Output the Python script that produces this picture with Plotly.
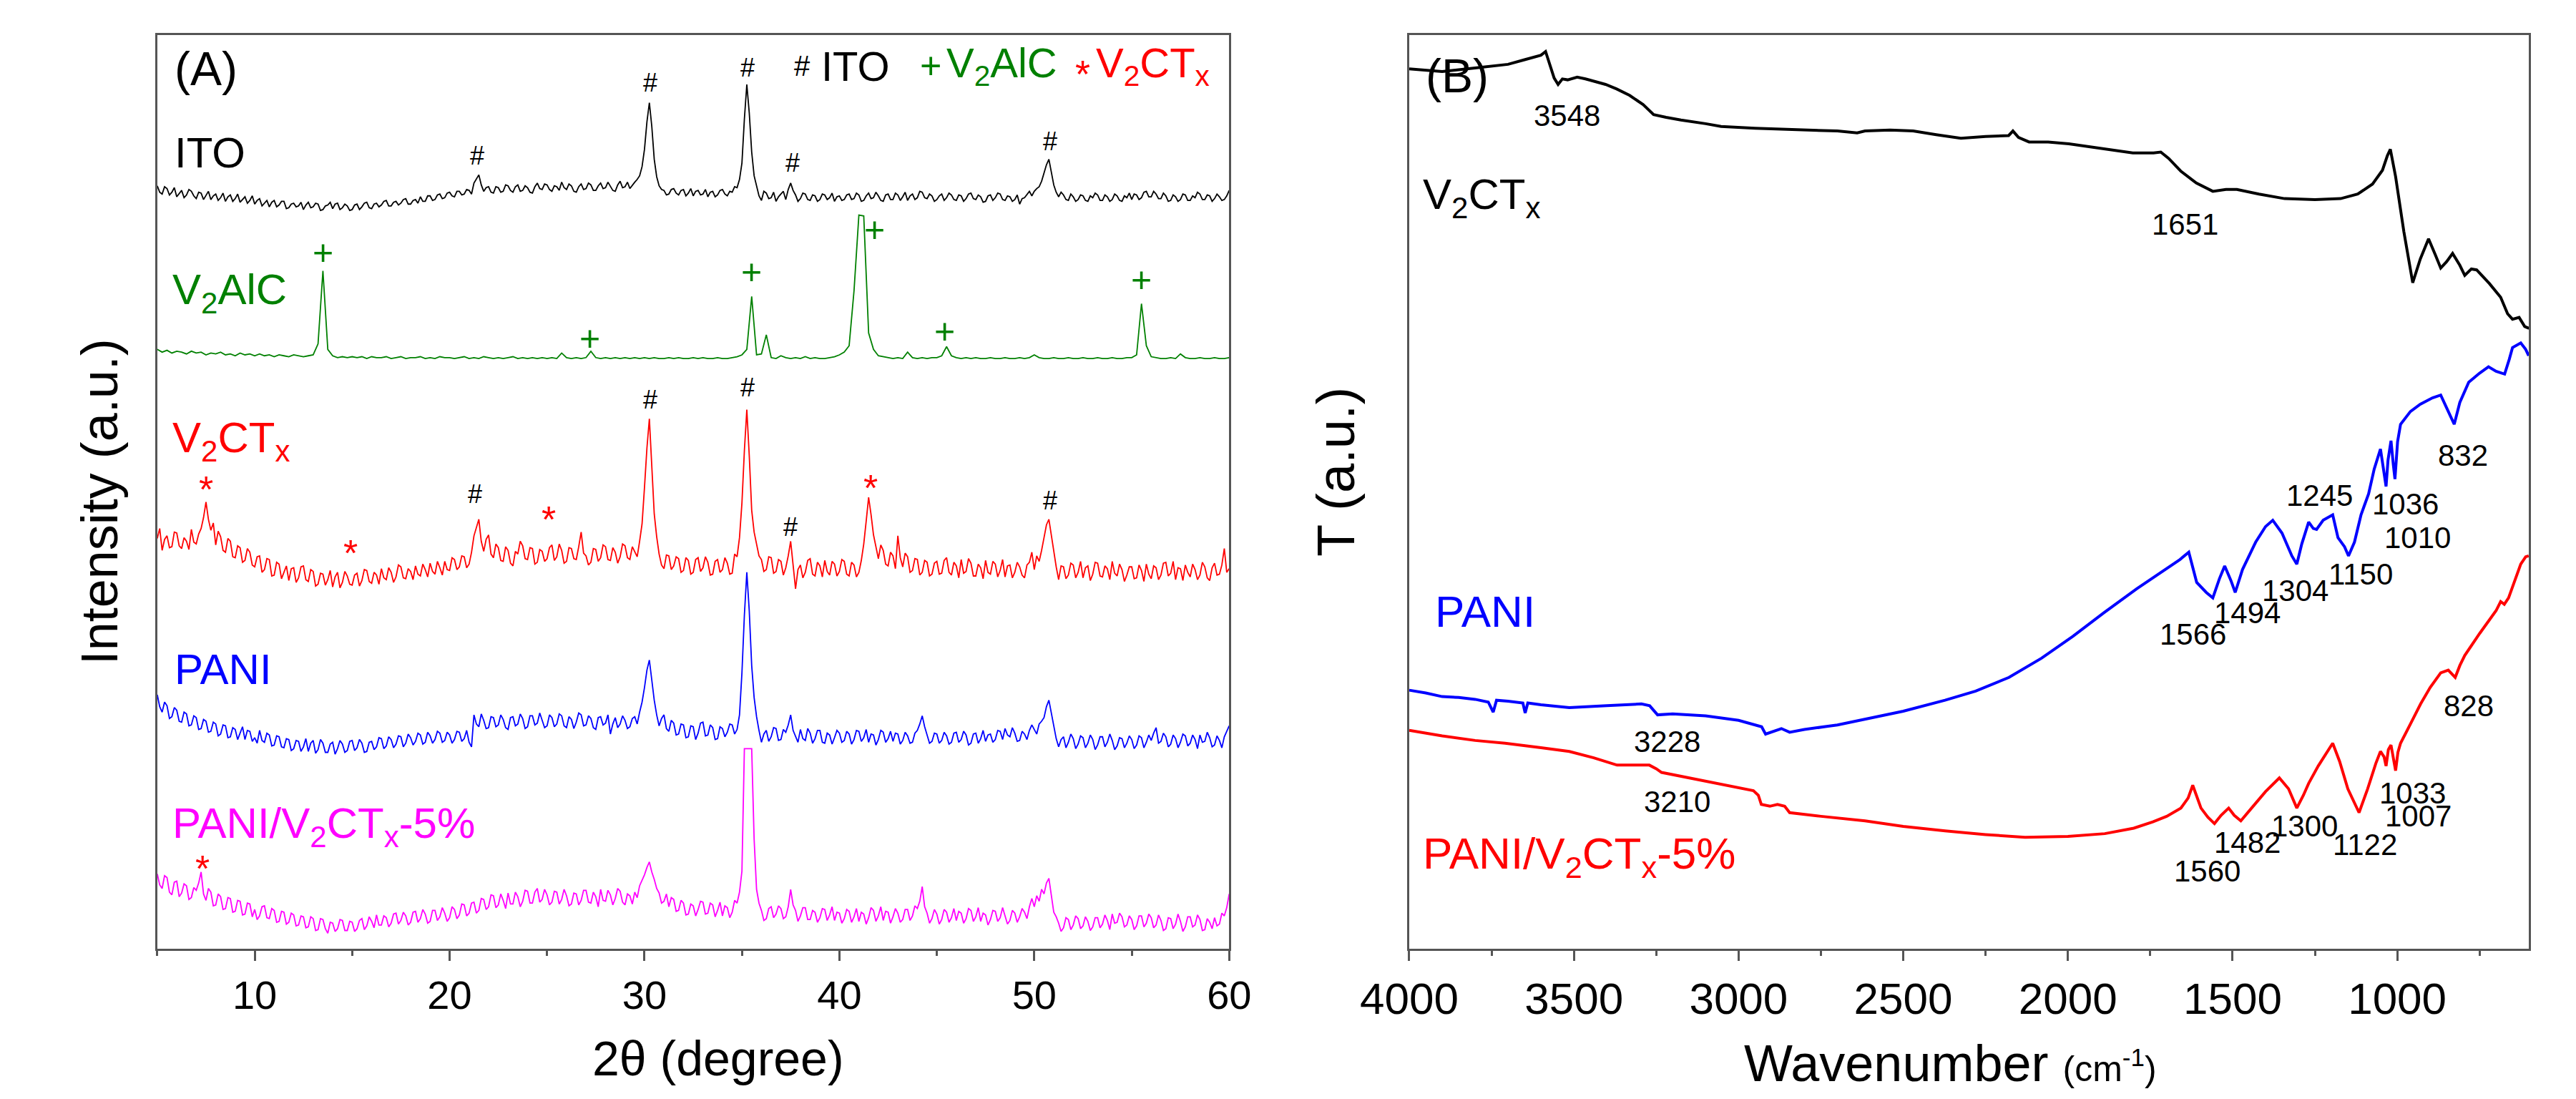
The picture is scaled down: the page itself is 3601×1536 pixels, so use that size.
import plotly.graph_objects as go

# ---------------- (A) XRD ----------------
# noisy scans read at 0.125 deg, the clean V2AlC scan at 0.25 deg
two_theta_fine = [5 + 0.125 * i for i in range(441)]
two_theta = [5 + 0.25 * i for i in range(221)]

xrd_ito = [
    83.5, 82.8, 82.6, 83.4, 83.2, 82.5, 82.8, 83.3, 82.3, 82.7, 83.0, 82.2, 82.5, 83.1, 82.9, 82.4, 82.1, 82.8, 82.7, 82.0,
    82.4, 82.9, 82.0, 82.4, 82.6, 81.9, 82.2, 82.7, 81.8, 82.3, 82.5, 81.8, 82.1, 82.6, 81.7, 82.0, 82.3, 81.6, 81.9, 82.4,
    81.5, 81.9, 82.1, 81.3, 81.6, 81.9, 81.2, 81.7, 81.9, 81.2, 81.4, 81.8, 81.8, 81.0, 81.1, 81.5, 81.6, 81.2, 81.3, 81.7,
    80.9, 81.4, 81.7, 81.1, 81.2, 81.6, 81.5, 80.8, 80.9, 81.3, 81.4, 81.7, 81.0, 81.5, 81.6, 80.9, 81.1, 81.5, 81.3, 80.8,
    80.9, 81.4, 81.5, 80.9, 81.2, 81.6, 81.7, 81.1, 81.0, 81.5, 81.6, 81.2, 81.4, 81.8, 81.9, 81.3, 81.3, 81.7, 81.8, 81.4,
    81.6, 82.0, 82.1, 81.5, 81.5, 81.9, 82.0, 81.6, 82.3, 81.8, 81.8, 82.4, 82.4, 81.9, 82.0, 82.5, 82.6, 82.1, 82.2, 82.7,
    82.8, 82.4, 82.3, 82.9, 82.9, 82.5, 82.6, 83.1, 83.0, 82.6, 83.8, 84.3, 84.7, 83.6, 82.9, 83.3, 83.4, 82.8, 82.7, 83.4,
    83.3, 82.8, 82.9, 83.6, 83.5, 83.0, 82.8, 83.4, 83.6, 82.9, 83.0, 83.5, 83.3, 82.8, 82.7, 83.4, 83.8, 83.2, 83.1, 83.7,
    83.6, 83.1, 82.9, 83.5, 83.4, 83.0, 83.9, 83.3, 83.1, 83.7, 83.5, 82.9, 82.8, 83.4, 83.7, 83.1, 83.2, 83.8, 83.6, 83.0,
    83.0, 83.5, 83.8, 83.2, 83.3, 83.9, 83.5, 83.0, 82.9, 83.6, 84.0, 83.3, 83.4, 83.9, 83.2, 83.6, 83.9, 84.2, 84.6, 85.6,
    87.5, 90.5, 92.6, 90.0, 86.4, 84.5, 83.5, 83.1, 83.0, 82.5, 82.6, 83.1, 83.2, 82.7, 82.5, 83.0, 83.1, 82.4, 82.7, 83.2,
    82.4, 82.9, 83.0, 82.5, 82.6, 83.1, 82.3, 82.8, 82.9, 82.3, 82.5, 83.0, 83.1, 82.6, 82.4, 82.9, 82.8, 83.4, 83.3, 84.2,
    86.0, 90.8, 94.6, 91.5, 87.2, 84.6, 83.4, 82.4, 81.9, 82.9, 82.7, 82.1, 82.2, 82.8, 81.8, 82.3, 82.6, 82.9, 82.0, 83.1,
    83.8, 83.0, 82.5, 81.8, 82.1, 82.7, 82.6, 82.0, 81.9, 82.5, 82.4, 81.8, 82.0, 82.6, 82.5, 82.0, 82.2, 82.7, 81.8, 82.3,
    82.4, 81.9, 82.0, 82.5, 82.6, 82.0, 82.1, 82.7, 82.5, 81.8, 81.9, 82.4, 82.7, 82.1, 82.2, 82.8, 82.4, 81.9, 81.8, 82.5,
    82.6, 82.0, 82.0, 82.7, 82.5, 81.9, 82.3, 82.8, 81.9, 82.4, 82.6, 82.0, 82.2, 82.9, 82.8, 82.2, 82.1, 82.6, 82.4, 81.8,
    82.0, 82.4, 82.6, 81.9, 82.2, 82.7, 82.5, 82.0, 81.9, 82.5, 82.4, 81.8, 82.1, 82.6, 82.7, 82.1, 82.0, 82.5, 82.3, 81.7,
    81.8, 82.4, 82.5, 81.9, 82.2, 82.7, 82.6, 82.0, 81.9, 82.4, 82.3, 81.8, 82.0, 82.5, 81.5, 82.1, 82.2, 82.6, 82.9, 82.4,
    82.9, 83.2, 83.4, 84.0, 84.9, 85.8, 86.4, 85.0, 83.6, 82.8, 82.3, 82.8, 82.5, 82.0, 81.9, 82.6, 82.3, 81.8, 82.0, 82.5,
    82.4, 81.9, 81.8, 82.4, 82.2, 82.7, 82.5, 81.9, 81.9, 82.5, 82.3, 81.8, 82.0, 82.6, 82.4, 81.9, 81.8, 82.4, 82.2, 82.7,
    82.0, 82.6, 82.5, 82.0, 82.2, 82.8, 82.9, 82.3, 82.3, 82.9, 82.6, 82.1, 82.1, 82.7, 82.4, 81.8, 81.9, 82.5, 82.3, 81.8,
    82.0, 82.6, 82.5, 81.9, 81.9, 82.4, 82.2, 82.8, 82.6, 82.0, 82.0, 82.5, 82.4, 81.8, 82.1, 82.6, 82.3, 81.9, 82.0, 82.4,
    83.0,
]

xrd_v2alc = [
    65.6, 65.3, 65.5, 65.2, 65.4, 65.3, 65.1, 65.4, 65.2, 65.3, 65.0, 65.2, 65.1, 65.3, 65.0, 65.1, 64.9, 65.2, 65.0, 65.1,
    64.9, 65.1, 64.9, 65.0, 64.8, 65.0, 64.9, 64.8, 65.0, 64.9, 64.8, 64.9, 65.0, 66.2, 74.2, 65.6, 64.9, 64.7, 64.8, 64.7,
    64.8, 64.7, 64.8, 64.6, 64.8, 64.7, 64.7, 64.8, 64.6, 64.7, 64.8, 64.6, 64.7, 64.7, 64.8, 64.6, 64.7, 64.6, 64.8, 64.7,
    64.7, 64.6, 64.7, 64.8, 64.6, 64.7, 64.6, 64.8, 64.7, 64.6, 64.7, 64.6, 64.7, 64.8, 64.6, 64.7, 64.6, 64.7, 64.6, 64.7,
    64.6, 64.7, 64.6, 65.2, 64.7, 64.6, 64.7, 64.6, 64.7, 65.4, 64.7, 64.6, 64.7, 64.6, 64.7, 64.6, 64.7, 64.6, 64.7, 64.6,
    64.7, 64.6, 64.7, 64.6, 64.6, 64.7, 64.6, 64.7, 64.6, 64.6, 64.7, 64.6, 64.7, 64.6, 64.6, 64.7, 64.6, 64.6, 64.7, 64.8,
    65.0, 65.6, 71.4, 65.0, 65.1, 67.2, 64.7, 64.6, 64.9, 64.7, 64.6, 64.7, 64.6, 64.8, 64.6, 64.7, 64.6, 64.6, 64.7, 64.8,
    65.0, 65.3, 66.0, 72.0, 80.3, 80.2, 67.4, 65.6, 64.9, 64.8, 64.7, 64.6, 64.7, 64.6, 65.3, 64.7, 64.6, 64.7, 64.6, 64.7,
    64.7, 64.9, 65.9, 64.9, 64.7, 64.6, 64.7, 64.6, 64.7, 64.6, 64.6, 64.7, 64.6, 64.6, 64.7, 64.6, 64.6, 64.7, 64.6, 64.7,
    65.0, 64.7, 64.6, 64.6, 64.7, 64.6, 64.6, 64.7, 64.6, 64.6, 64.7, 64.6, 64.6, 64.7, 64.6, 64.6, 64.7, 64.6, 64.6, 64.7,
    64.7, 65.0, 70.6, 66.0, 64.8, 64.7, 64.6, 64.6, 64.7, 64.6, 65.1, 64.7, 64.6, 64.6, 64.7, 64.6, 64.6, 64.7, 64.6, 64.6, 64.7,
]

xrd_v2ctx = [
    44.9, 46.0, 43.6, 44.8, 45.2, 43.9, 44.0, 45.6, 45.5, 44.1, 43.8, 45.0, 44.6, 43.7, 45.9, 44.5, 44.3, 45.4, 46.0, 47.2,
    48.9, 47.0, 45.8, 46.6, 44.2, 45.7, 45.1, 43.6, 43.4, 44.9, 44.6, 42.9, 42.8, 44.1, 43.9, 42.3, 42.5, 43.8, 43.4, 42.0,
    41.8, 42.9, 43.0, 41.2, 41.5, 42.7, 42.6, 40.8, 40.9, 42.3, 42.1, 40.5, 41.2, 41.9, 40.3, 41.6, 41.7, 40.1, 40.6, 41.8,
    41.9, 40.4, 40.2, 41.5, 41.3, 39.7, 39.9, 41.1, 41.0, 39.8, 40.4, 41.4, 39.6, 40.7, 41.2, 39.5, 40.1, 41.3, 40.8, 39.9,
    39.8, 40.9, 41.1, 39.7, 40.3, 41.5, 41.4, 40.2, 40.0, 41.2, 40.9, 39.9, 41.6, 40.6, 40.4, 41.7, 41.2, 40.1, 40.7, 42.0,
    41.8, 40.6, 40.5, 41.6, 41.3, 40.4, 41.9, 41.0, 40.8, 42.1, 41.5, 40.7, 42.2, 41.3, 41.0, 42.4, 41.7, 40.9, 42.4, 41.5,
    41.4, 42.8, 42.6, 41.5, 41.8, 43.0, 42.9, 41.7, 42.1, 43.4, 45.2, 46.1, 47.0, 44.6, 43.5, 44.8, 45.3, 43.2, 42.8, 44.3,
    43.9, 42.5, 42.4, 44.0, 43.6, 42.2, 41.9, 43.5, 43.2, 44.6, 44.1, 42.7, 42.6, 43.9, 43.8, 42.1, 42.3, 43.7, 43.5, 42.4,
    42.7, 43.9, 44.2, 42.5, 42.9, 44.3, 43.6, 42.2, 42.4, 43.9, 43.8, 42.7, 42.6, 44.0, 45.6, 43.3, 43.0, 42.0, 42.3, 43.8,
    43.7, 42.4, 42.8, 44.2, 44.0, 42.6, 42.5, 43.9, 43.4, 42.2, 42.9, 44.3, 44.1, 42.8, 42.6, 44.0, 43.5, 42.9, 44.6, 46.5,
    50.5, 54.8, 58.0, 53.0, 47.6, 45.1, 43.2, 42.0, 41.6, 43.1, 43.0, 41.5, 41.9, 42.9, 42.7, 41.2, 41.4, 42.8, 42.5, 41.0,
    41.2, 42.6, 42.8, 41.3, 41.7, 42.9, 42.3, 40.9, 41.0, 42.4, 42.6, 41.2, 41.5, 42.8, 42.2, 41.0, 41.1, 43.2, 42.9, 45.0,
    48.8, 54.5, 59.0, 54.0, 48.0, 45.6, 44.2, 43.0, 42.6, 41.3, 41.5, 42.9, 42.8, 41.1, 41.3, 42.6, 42.4, 40.9, 41.7, 43.0,
    44.6, 42.2, 39.4, 41.5, 42.0, 40.6, 41.2, 42.5, 42.7, 41.0, 40.8, 42.3, 41.9, 40.7, 42.5, 41.3, 40.9, 42.4, 42.1, 40.8,
    41.3, 42.6, 42.4, 41.0, 40.8, 42.3, 42.0, 40.7, 41.2, 42.5, 44.3, 46.8, 49.4, 47.5, 45.3, 44.0, 42.7, 44.2, 43.6, 42.1,
    41.9, 43.4, 43.0, 41.6, 45.2, 42.8, 41.8, 43.3, 42.9, 41.2, 41.4, 42.7, 42.6, 40.9, 41.2, 42.5, 42.3, 40.8, 41.0, 42.2,
    42.4, 41.0, 41.1, 42.5, 42.8, 41.2, 40.9, 42.3, 41.9, 40.6, 42.6, 41.1, 41.3, 42.7, 42.2, 40.8, 40.8, 42.1, 41.7, 40.5,
    42.5, 41.2, 41.0, 42.4, 42.1, 40.7, 41.4, 42.6, 40.7, 41.9, 42.0, 40.6, 41.2, 42.3, 41.8, 40.9, 40.6, 42.0, 42.3, 43.4,
    41.5, 43.0, 42.4, 43.6, 45.0, 46.4, 47.0, 45.2, 43.2, 41.8, 40.4, 41.9, 41.8, 40.5, 40.9, 42.2, 42.0, 40.6, 41.2, 42.4,
    40.6, 41.7, 41.9, 40.3, 41.0, 42.3, 42.2, 40.8, 40.7, 41.9, 41.6, 40.4, 42.4, 41.1, 40.8, 42.1, 41.5, 40.2, 40.9, 41.8,
    41.8, 40.5, 40.6, 42.0, 41.4, 40.2, 42.1, 41.0, 40.5, 41.9, 41.7, 40.4, 40.9, 42.2, 42.3, 40.8, 41.1, 42.4, 40.4, 41.7,
    41.6, 40.3, 42.0, 41.2, 40.7, 42.1, 41.5, 40.4, 40.9, 42.3, 41.8, 40.6, 40.3, 41.7, 42.2, 40.9, 41.0, 42.0, 43.8, 41.2,
    41.6,
]

xrd_pani = [
    27.8, 26.5, 25.9, 27.0, 26.6, 25.2, 25.4, 26.4, 26.1, 24.9, 24.8, 25.9, 25.7, 24.4, 24.5, 25.5, 25.3, 24.0, 24.1, 25.1,
    24.9, 23.7, 23.8, 24.8, 24.6, 23.3, 23.5, 24.5, 24.4, 23.1, 23.2, 24.2, 24.0, 22.9, 23.6, 24.3, 22.9, 23.9, 23.8, 22.7,
    23.1, 22.5, 23.9, 22.8, 22.6, 23.6, 23.4, 22.2, 22.3, 23.3, 23.2, 22.1, 22.0, 23.0, 22.9, 21.7, 21.9, 22.8, 22.7, 21.6,
    22.1, 23.0, 21.6, 22.5, 22.8, 21.4, 21.8, 22.9, 22.5, 21.5, 21.5, 22.4, 22.6, 21.3, 21.9, 22.8, 22.4, 21.5, 21.7, 22.7,
    22.8, 21.7, 22.0, 22.9, 22.5, 21.5, 21.6, 22.6, 22.7, 21.8, 22.1, 23.1, 23.0, 21.9, 22.2, 23.2, 22.9, 22.0, 22.4, 23.3,
    23.2, 22.1, 22.5, 23.5, 23.1, 22.3, 22.7, 23.6, 23.4, 22.4, 22.6, 23.7, 23.3, 22.5, 22.9, 23.8, 23.6, 22.6, 22.8, 23.7,
    23.4, 22.5, 22.9, 23.8, 23.7, 22.7, 23.0, 23.9, 22.6, 22.1, 25.6, 24.6, 24.3, 25.7, 25.0, 24.1, 24.2, 25.4, 25.3, 24.3,
    24.5, 25.6, 25.1, 24.2, 24.0, 25.3, 25.4, 24.4, 24.6, 25.7, 25.2, 24.1, 24.3, 25.5, 25.5, 24.5, 24.7, 25.8, 25.0, 24.2,
    24.4, 25.6, 25.3, 24.3, 24.6, 25.7, 25.5, 24.4, 24.2, 25.4, 25.1, 24.1, 24.8, 25.8, 25.6, 24.4, 24.5, 25.5, 25.2, 24.2,
    24.0, 25.3, 25.4, 24.5, 24.7, 25.6, 23.5, 24.6, 25.3, 24.2, 24.6, 25.5, 25.0, 24.1, 24.3, 25.2, 25.4, 24.6, 25.9, 27.0,
    28.6, 30.5, 31.6, 29.5, 27.2, 25.6, 24.4, 25.2, 25.6, 24.1, 23.8, 25.0, 24.7, 23.4, 23.5, 24.6, 24.5, 23.1, 23.2, 24.4,
    24.3, 22.9, 23.6, 24.7, 24.8, 23.3, 23.4, 24.5, 24.2, 22.9, 23.0, 24.3, 24.1, 23.2, 23.7, 24.6, 24.5, 23.5, 24.0, 25.6,
    30.2, 36.5, 41.2, 37.0, 31.0, 27.5, 25.4, 23.9, 22.6, 23.5, 23.9, 22.7, 23.2, 24.2, 24.1, 22.8, 22.9, 24.0, 23.7, 24.5,
    25.6, 23.9, 23.3, 22.6, 24.0, 23.0, 22.8, 24.1, 23.6, 22.5, 23.0, 23.9, 23.9, 22.6, 22.5, 23.6, 23.4, 22.4, 23.1, 23.9,
    23.6, 22.6, 22.8, 23.8, 23.5, 22.4, 22.9, 23.9, 23.8, 22.7, 23.1, 24.0, 22.6, 23.5, 23.4, 22.3, 22.9, 23.9, 23.7, 22.6,
    23.0, 23.8, 22.7, 23.6, 23.5, 22.4, 22.8, 23.7, 23.3, 22.5, 22.6, 23.6, 23.9, 24.6, 25.5, 24.3, 23.4, 22.5, 22.7, 23.6,
    23.5, 22.5, 22.8, 23.7, 23.3, 22.4, 22.6, 23.6, 23.7, 22.6, 22.9, 23.8, 23.4, 22.3, 22.5, 23.5, 23.6, 22.5, 23.0, 23.9,
    22.7, 23.4, 23.5, 22.6, 22.9, 23.9, 23.8, 22.9, 24.1, 23.4, 23.2, 24.2, 23.6, 22.7, 22.8, 23.8, 23.5, 22.9, 23.9, 24.5,
    24.0, 23.5, 24.6, 24.9, 25.3, 26.5, 27.2, 25.8, 24.2, 23.0, 22.1, 22.9, 23.2, 22.0, 22.6, 23.5, 23.0, 21.9, 22.4, 23.3,
    23.1, 22.0, 22.5, 23.4, 22.9, 21.8, 22.3, 23.2, 23.2, 22.1, 22.6, 23.5, 22.8, 21.8, 22.2, 23.1, 23.0, 22.0, 22.5, 23.3,
    22.9, 21.9, 22.3, 23.3, 23.1, 22.0, 22.6, 23.4, 22.8, 23.6, 24.2, 22.5, 22.7, 23.6, 23.2, 22.1, 22.4, 23.4, 23.0, 22.0,
    22.6, 23.5, 23.3, 22.2, 22.5, 23.4, 22.9, 21.9, 23.4, 22.6, 22.7, 23.7, 23.1, 22.1, 22.3, 23.3, 22.8, 22.0, 23.2, 23.8,
    24.4,
]

xrd_pani_v2ctx = [
    8.2, 7.0, 6.6, 8.0, 7.8, 6.2, 5.9, 7.3, 7.4, 5.7, 6.1, 7.1, 6.9, 5.4, 5.6, 6.7, 6.4, 7.2, 8.4, 6.0,
    5.3, 6.6, 6.2, 4.7, 4.8, 6.0, 5.7, 4.3, 4.4, 5.6, 5.5, 4.0, 4.1, 5.3, 5.2, 3.7, 3.8, 5.0, 4.9, 3.5,
    4.3, 3.2, 3.6, 4.6, 4.7, 3.4, 3.3, 4.4, 4.2, 2.9, 3.0, 4.1, 4.0, 2.7, 2.9, 3.9, 3.7, 2.5, 2.6, 3.6,
    3.5, 2.3, 2.4, 3.5, 3.3, 2.0, 2.1, 3.3, 3.2, 2.2, 1.7, 2.9, 2.8, 1.9, 2.2, 3.2, 3.1, 2.0, 2.0, 3.0,
    2.9, 1.9, 2.2, 3.1, 3.3, 2.1, 2.5, 3.5, 3.0, 2.3, 3.7, 2.6, 2.6, 3.6, 3.4, 2.4, 2.8, 3.8, 3.9, 2.7,
    3.1, 4.0, 3.6, 2.6, 2.9, 4.0, 4.1, 2.9, 3.3, 4.3, 3.8, 2.8, 3.0, 4.2, 4.2, 3.1, 3.5, 4.5, 3.9, 3.0,
    3.4, 4.6, 4.3, 3.3, 3.7, 4.9, 4.8, 3.6, 3.9, 5.0, 5.1, 3.9, 4.2, 5.5, 5.4, 4.3, 4.6, 5.9, 5.8, 4.5,
    4.8, 6.0, 5.3, 4.4, 6.1, 4.9, 4.9, 6.2, 5.7, 4.6, 5.2, 6.4, 6.3, 5.0, 5.0, 6.2, 6.6, 5.1, 5.4, 6.5,
    5.9, 4.8, 5.1, 6.3, 6.2, 4.9, 5.4, 6.5, 5.8, 4.7, 4.9, 6.1, 6.0, 4.8, 5.3, 6.4, 6.4, 5.1, 5.0, 6.2,
    5.7, 4.6, 6.5, 5.3, 5.2, 6.4, 5.9, 4.8, 5.5, 6.6, 6.3, 5.1, 4.8, 6.0, 5.8, 4.9, 6.2, 5.6, 6.9, 7.5,
    8.1, 8.9, 9.5, 8.4, 7.6, 6.6, 6.1, 5.0, 5.2, 6.0, 4.6, 5.6, 5.4, 4.1, 4.2, 5.3, 5.0, 3.7, 3.8, 4.9,
    4.7, 3.6, 4.3, 5.2, 5.1, 3.8, 3.9, 5.0, 4.8, 3.5, 4.2, 5.1, 3.6, 4.7, 4.5, 3.4, 4.0, 5.3, 5.0, 6.2,
    8.5, 21.9, 21.9, 21.9, 21.9, 12.0, 6.5, 5.0, 4.2, 3.1, 3.3, 4.4, 4.6, 3.4, 3.8, 4.7, 4.4, 3.3, 3.5, 4.6,
    6.5, 4.8, 4.2, 3.0, 3.6, 4.5, 4.5, 3.2, 3.2, 4.2, 4.0, 2.9, 3.4, 4.4, 4.3, 3.1, 3.7, 4.6, 3.1, 4.0,
    3.9, 2.8, 3.3, 4.3, 4.1, 2.9, 3.5, 4.4, 3.0, 4.0, 3.8, 2.7, 3.4, 4.5, 4.2, 3.0, 3.6, 4.6, 3.1, 4.1,
    4.0, 2.8, 3.5, 4.4, 3.9, 2.9, 3.2, 4.3, 4.3, 3.1, 3.6, 4.7, 4.4, 5.2, 6.8, 4.6, 3.9, 2.8, 3.3, 4.3,
    3.8, 2.7, 3.2, 4.3, 4.0, 2.9, 3.4, 4.4, 3.1, 4.1, 3.9, 2.8, 3.3, 4.4, 4.2, 3.0, 3.5, 4.5, 3.0, 3.9,
    3.7, 2.6, 3.2, 4.2, 4.1, 3.0, 3.4, 4.5, 3.6, 2.7, 3.1, 4.2, 3.9, 2.9, 3.5, 4.4, 4.0, 3.3, 4.6, 5.5,
    4.6, 5.8, 5.2, 6.5, 6.0, 7.2, 7.7, 6.0, 4.0, 3.5, 2.8, 1.9, 2.3, 3.4, 3.2, 2.1, 2.6, 3.6, 3.3, 2.2,
    2.5, 3.5, 3.0, 2.0, 2.4, 3.4, 3.4, 2.3, 2.7, 3.7, 3.1, 2.1, 3.8, 2.8, 2.9, 3.9, 3.5, 2.4, 2.6, 3.6,
    3.2, 2.1, 2.5, 3.6, 3.6, 2.4, 2.8, 3.8, 3.4, 2.3, 2.6, 3.7, 3.1, 2.0, 2.2, 3.4, 3.3, 2.2, 2.7, 3.8,
    3.0, 1.9, 2.4, 3.5, 3.5, 2.4, 2.6, 3.7, 3.2, 2.0, 2.1, 3.3, 2.9, 2.2, 3.4, 2.5, 2.7, 3.9, 3.6, 4.5,
    6.0,
]

for _series in (xrd_ito, xrd_v2ctx, xrd_pani, xrd_pani_v2ctx):
    assert len(_series) == len(two_theta_fine), len(_series)
assert len(xrd_v2alc) == len(two_theta), len(xrd_v2alc)

# peak markers
ito_marks = [(21.4, 86.8), (30.3, 94.8), (35.3, 96.4), (37.6, 86.0), (50.8, 88.4)]
v2alc_marks = [(13.5, 76.2), (27.2, 66.8), (35.5, 74.1), (41.8, 78.7), (45.4, 67.6), (55.5, 73.2)]
v2ctx_marks = [(7.5, 51.3, "*"), (14.9, 44.3, "*"), (21.3, 49.8, "#"), (25.1, 48.0, "*"),
               (30.3, 60.1, "#"), (35.3, 61.4, "#"), (37.5, 46.2, "#"), (41.6, 51.4, "*"),
               (50.8, 49.1, "#")]
composite_marks = [(7.3, 9.8, "*")]

# ---------------- (B) FTIR ----------------
wn_v2ctx = [4000, 3900, 3800, 3700, 3650, 3600, 3586, 3570, 3560, 3548, 3535, 3519, 3490, 3465,
            3430, 3404, 3370, 3331, 3290, 3258, 3220, 3175, 3100, 3053, 2950, 2859, 2760, 2700,
            2640, 2616, 2540, 2470, 2400, 2325, 2250, 2180, 2167, 2150, 2118, 2060, 1997, 1900,
            1803, 1740, 1718, 1694, 1657, 1610, 1560, 1520, 1487, 1420, 1342, 1250, 1172, 1120,
            1075, 1045, 1030, 1021, 1005, 980, 953, 930, 905, 885, 868, 850, 832, 810, 795, 775,
            759, 720, 686, 665, 650, 630, 613, 600]
t_v2ctx = [96.3, 96.0, 96.4, 96.8, 97.3, 97.8, 98.2, 96.5, 95.3, 94.6, 95.2, 95.1, 95.4, 95.2,
           94.9, 94.6, 94.1, 93.4, 92.4, 91.3, 91.0, 90.7, 90.3, 90.0, 89.8, 89.7, 89.6, 89.5,
           89.3, 89.5, 89.6, 89.5, 89.1, 88.7, 88.9, 89.0, 89.5, 88.8, 88.3, 88.3, 88.1, 87.6,
           87.1, 87.1, 87.2, 86.5, 85.1, 83.8, 82.9, 83.1, 83.1, 82.6, 82.1, 82.0, 82.1, 82.6,
           83.7, 85.2, 86.8, 87.5, 84.5, 78.5, 72.9, 75.5, 77.7, 76.0, 74.5, 75.2, 76.1, 74.8, 73.7, 74.4,
           74.3, 72.8, 71.3, 69.5, 68.9, 69.1, 68.1, 67.9]

wn_pani = [4000, 3950, 3900, 3850, 3800, 3760, 3745, 3735, 3700, 3655, 3648, 3640, 3600, 3514,
           3400, 3295, 3270, 3246, 3200, 3100, 3000, 2955, 2930, 2918, 2895, 2870, 2845, 2800,
           2700, 2616, 2500, 2373, 2280, 2179, 2080, 1985, 1890, 1791, 1700, 1660, 1633, 1620,
           1609, 1580, 1560, 1540, 1524, 1505, 1492, 1470, 1430, 1400, 1378, 1350, 1320, 1305,
           1290, 1269, 1255, 1245, 1225, 1196, 1180, 1160, 1148, 1130, 1110, 1087, 1070, 1051,
           1040, 1034, 1028, 1019, 1012, 1007, 999, 990, 960, 930, 893, 868, 850, 827, 810, 783,
           750, 723, 700, 674, 660, 650, 625, 610, 601]
t_pani = [28.3, 28.0, 27.6, 27.5, 27.3, 27.0, 25.9, 27.2, 27.1, 26.9, 25.8, 26.9, 26.7, 26.4,
          26.6, 26.8, 26.6, 25.6, 25.7, 25.5, 25.0, 24.6, 24.3, 23.5, 23.8, 24.1, 23.7, 24.0,
          24.5, 25.1, 26.0, 27.2, 28.2, 29.7, 31.8, 34.2, 36.8, 39.4, 41.6, 42.6, 43.4, 41.5,
          40.1, 39.0, 38.4, 40.5, 41.9, 40.3, 39.0, 41.5, 44.5, 46.2, 46.9, 45.5, 43.0, 42.1,
          44.3, 46.7, 46.0, 45.9, 46.9, 47.5, 45.0, 44.0, 43.0, 44.5, 47.5, 49.8, 52.5, 54.7,
          52.0, 50.6, 53.5, 55.6, 53.0, 51.4, 55.5, 57.4, 58.8, 59.6, 60.3, 60.6, 59.2, 57.4, 59.8, 62.0,
          63.0, 63.7, 63.2, 62.9, 64.5, 65.8, 66.3, 65.6, 64.9]

wn_pani_v2ctx = [4000, 3900, 3800, 3709, 3600, 3514, 3440, 3369, 3271, 3250, 3234, 3150, 3053,
                 2990, 2955, 2940, 2931, 2905, 2882, 2860, 2845, 2750, 2616, 2500, 2373, 2250,
                 2130, 2000, 1888, 1800, 1742, 1700, 1657, 1635, 1621, 1610, 1596, 1575, 1555,
                 1535, 1512, 1495, 1475, 1440, 1400, 1358, 1330, 1305, 1285, 1269, 1240, 1196,
                 1175, 1150, 1116, 1090, 1065, 1051, 1040, 1034, 1027, 1019, 1012, 1005, 998, 990,
                 960, 929, 900, 868, 845, 824, 810, 795, 750, 700, 686, 675, 662, 640, 625, 610, 601]
t_pani_v2ctx = [23.9, 23.3, 22.8, 22.5, 22.0, 21.6, 20.9, 20.1, 20.1, 19.7, 19.3, 18.7, 18.0,
                17.6, 17.3, 16.8, 15.8, 15.6, 15.8, 15.6, 14.9, 14.5, 14.0, 13.4, 12.9, 12.5,
                12.2, 12.3, 12.6, 13.2, 13.9, 14.5, 15.4, 16.5, 17.9, 16.8, 15.4, 14.4, 13.7,
                14.6, 15.4, 14.6, 14.0, 15.5, 17.2, 18.7, 17.5, 15.4, 16.8, 18.1, 20.0, 22.5,
                20.5, 17.5, 14.9, 17.5, 20.3, 21.6, 21.0, 20.0, 21.8, 22.3, 21.0, 19.5, 21.5, 22.5,
                24.6, 26.8, 28.6, 30.2, 30.5, 29.7, 31.0, 32.1, 34.5, 37.0, 38.0, 37.7, 38.4, 40.5, 42.1, 42.9, 43.0]

# band labels: (wavenumber, height, text)
ftir_labels = [(3520, 91.2, "3548"), (1644, 79.3, "1651"),
               (801, 54.0, "832"), (1237, 49.6, "1245"), (976, 48.7, "1036"), (939, 45.0, "1010"),
               (1112, 41.0, "1150"), (1310, 39.2, "1304"), (1456, 36.8, "1494"), (1621, 34.4, "1566"),
               (3218, 22.7, "3228"),
               (3187, 16.1, "3210"), (784, 26.6, "828"), (953, 17.0, "1033"), (936, 14.5, "1007"),
               (1281, 13.4, "1300"), (1099, 11.4, "1122"), (1456, 11.6, "1482"), (1577, 8.5, "1560")]

BLACK, GREEN, RED, BLUE, MAGENTA = "#000000", "#008000", "#ff0000", "#0000ff", "#ff00ff"
FONT = "Liberation Sans, Arial, sans-serif"
V2CTX = "V<sub>2</sub>CT<sub>x</sub>"

fig = go.Figure()

for xs, ys, color in [(two_theta_fine, xrd_ito, BLACK), (two_theta, xrd_v2alc, GREEN),
                      (two_theta_fine, xrd_v2ctx, RED), (two_theta_fine, xrd_pani, BLUE),
                      (two_theta_fine, xrd_pani_v2ctx, MAGENTA)]:
    fig.add_trace(go.Scatter(x=xs, y=ys, mode="lines", line=dict(color=color, width=1.8),
                             xaxis="x", yaxis="y", showlegend=False))

for xs, ys, color in [(wn_v2ctx, t_v2ctx, BLACK), (wn_pani, t_pani, BLUE),
                      (wn_pani_v2ctx, t_pani_v2ctx, RED)]:
    fig.add_trace(go.Scatter(x=xs, y=ys, mode="lines", line=dict(color=color, width=4),
                             xaxis="x2", yaxis="y2", showlegend=False))

ann = []


def label(x, y, text, color=BLACK, size=60, ref="", xanchor="left"):
    ann.append(dict(x=x, y=y, xref="x" + ref, yref="y" + ref, text=text, showarrow=False,
                    xanchor=xanchor, yanchor="middle", font=dict(family=FONT, size=size, color=color)))


# panel A texts
label(5.8, 96.3, "(A)", size=66)
label(5.8, 87.1, "ITO")
label(5.7, 71.8, "V<sub>2</sub>AlC", GREEN)
label(5.7, 55.6, V2CTX, RED)
label(5.8, 30.6, "PANI", BLUE)
label(5.7, 13.4, "PANI/" + V2CTX + "-5%", MAGENTA)

label(38.1, 96.6, "#", size=40, xanchor="center")
label(39.0, 96.6, "ITO", size=58)
label(44.7, 96.6, "+", GREEN, size=52, xanchor="center")
label(45.4, 96.6, "V<sub>2</sub>AlC", GREEN, size=58)
label(52.5, 95.8, "*", RED, size=54, xanchor="center")
label(53.1, 96.6, V2CTX, RED, size=58)

for x, y in ito_marks:
    label(x, y, "#", size=36, xanchor="center")
for x, y in v2alc_marks:
    label(x, y, "+", GREEN, size=50, xanchor="center")
for x, y, s in v2ctx_marks + composite_marks:
    if s == "#":
        label(x, y, "#", size=36, xanchor="center")
    else:
        label(x, y - 1.0, "*", RED, size=52, xanchor="center")

# panel B texts
label(3955, 95.5, "(B)", size=66, ref="2")
label(3962, 82.2, V2CTX, size=60, ref="2")
label(3926, 36.9, "PANI", BLUE, size=62, ref="2")
label(3962, 10.1, "PANI/" + V2CTX + "-5%", RED, size=62, ref="2")
for x, y, t in ftir_labels:
    label(x, y, t, size=42, ref="2", xanchor="center")

# axis titles
title_font = dict(family=FONT, color=BLACK)
ann.append(dict(x=0.0178, y=0.5488, xref="paper", yref="paper", text="Intensity (a.u.)", textangle=-90,
                xanchor="center", yanchor="middle", showarrow=False, font=dict(size=72, **title_font)))
ann.append(dict(x=0.5113, y=0.5755, xref="paper", yref="paper", text="T (a.u.)", textangle=-90,
                xanchor="center", yanchor="middle", showarrow=False, font=dict(size=74, **title_font)))
ann.append(dict(x=0.2647, y=0.0423, xref="paper", yref="paper", text="2θ (degree)",
                xanchor="center", yanchor="middle", showarrow=False, font=dict(size=68, **title_font)))
ann.append(dict(x=0.7567, y=0.0378, xref="paper", yref="paper",
                text="Wavenumber <span style='font-size:50px'>(cm<sup>-1</sup>)</span>",
                xanchor="center", yanchor="middle", showarrow=False, font=dict(size=72, **title_font)))

frame = dict(showline=True, mirror=True, linecolor="#555555", linewidth=3, showgrid=False, zeroline=False)

fig.update_layout(
    width=3601, height=1536,
    margin=dict(l=0, r=0, t=0, b=0),
    paper_bgcolor="white", plot_bgcolor="white",
    annotations=ann,
    xaxis=dict(domain=[0.0408, 0.4688], range=[5, 60], tickvals=[10, 20, 30, 40, 50, 60],
               ticks="outside", ticklen=14, tickwidth=3, tickcolor="#555555",
               minor=dict(ticks="outside", ticklen=7, tickwidth=3, tickcolor="#555555", tick0=5, dtick=5),
               tickfont=dict(family=FONT, size=56, color=BLACK), anchor="y", **frame),
    yaxis=dict(domain=[0.1419, 0.9733], range=[0, 100], showticklabels=False, ticks="",
               anchor="x", **frame),
    xaxis2=dict(domain=[0.5407, 0.9878], range=[4000, 600], tick0=0, dtick=500,
                ticks="outside", ticklen=14, tickwidth=3, tickcolor="#555555",
                minor=dict(ticks="outside", ticklen=7, tickwidth=3, tickcolor="#555555", tick0=0, dtick=250),
                tickfont=dict(family=FONT, size=62, color=BLACK), anchor="y2", **frame),
    yaxis2=dict(domain=[0.1419, 0.9733], range=[0, 100], showticklabels=False, ticks="",
                anchor="x2", **frame),
)

fig.write_html("out.html")
